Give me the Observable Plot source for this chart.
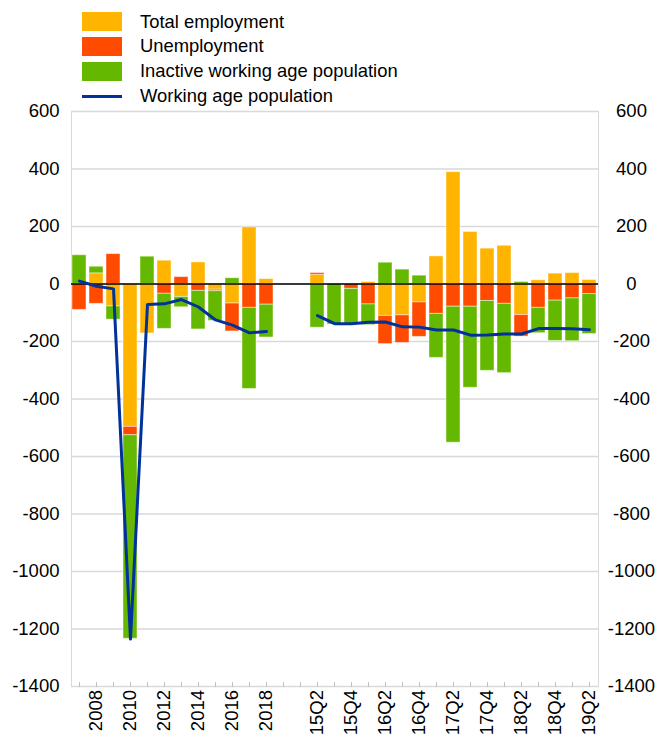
<!DOCTYPE html>
<html><head><meta charset="utf-8">
<script src="https://cdn.jsdelivr.net/npm/d3@7"></script>
<script src="https://cdn.jsdelivr.net/npm/@observablehq/plot@0.6"></script>
<style>
body{margin:0;overflow:hidden;background:#fff;font-family:Arial,"Liberation Sans",sans-serif;}
#legend{position:relative;height:100px;width:659px;}
.item{position:absolute;left:82px;height:20px;font-size:18.4px;color:#000;}
.sw{position:absolute;left:0;top:0.5px;width:40px;height:19px;}
.ln{position:absolute;left:0;top:8.5px;width:40px;height:3px;}
.lab{position:absolute;left:58px;top:0;white-space:nowrap;line-height:20px;}
</style></head><body>
<div id="legend"></div>
<div id="chart"></div>
<script>
const categories = ["2007","2008","2009","2010","2011","2012","2013","2014","2015","2016","2017","2018"," ","  ",
  "15Q2","15Q3","15Q4","16Q1","16Q2","16Q3","16Q4","17Q1","17Q2","17Q3","17Q4","18Q1","18Q2","18Q3","18Q4","19Q1","19Q2"];
const employment   = [0,37,-78,-497,-172,81,-45,75,-20,-68,197,17,null,null,
  32,0,0,7,-111,-109,-64,96,389,181,123,133,-108,13,36,38,14];
const unemployment = [-90,-69,104,-29,0,-34,24,-24,-5,-97,-83,-72,null,null,
  6,0,-17,-71,-98,-96,-120,-104,-79,-79,-59,-69,-75,-83,-58,-50,-35];
const inactive     = [100,23,-46,-708,95,-122,-36,-134,-103,20,-282,-114,null,null,
  -152,-141,-124,-72,74,50,29,-153,-473,-282,-243,-241,7,-88,-140,-149,-139];
const workingAge   = [10,-8,-17,-1235,-71,-69,-54,-80,-125,-143,-170,-165,null,null,
  -110,-138,-138,-133,-132,-149,-150,-160,-160,-178,-177,-174,-174,-155,-155,-156,-159];

const seriesNames = ["Total employment","Unemployment","Inactive working age population"];
const seriesColors = ["#FFB400","#FF4B00","#65B800"];
const lineName = "Working age population";
const lineColor = "#003299";
const yTicks = [-1400,-1200,-1000,-800,-600,-400,-200,0,200,400,600];
const xTickLabels = ["2008","2010","2012","2014","2016","2018","15Q2","15Q4","16Q2","16Q4","17Q2","17Q4","18Q2","18Q4","19Q2"];

// legend
const legend = document.getElementById("legend");
const legendTops = [11.5, 36, 61, 86];
[...seriesNames, lineName].forEach((name, i) => {
  const it = document.createElement("div");
  it.className = "item";
  it.style.top = legendTops[i] + "px";
  const sw = document.createElement("div");
  if (i < 3) { sw.className = "sw"; sw.style.background = seriesColors[i]; }
  else { sw.className = "ln"; sw.style.background = lineColor; }
  const lab = document.createElement("div");
  lab.className = "lab";
  lab.textContent = name;
  it.appendChild(sw); it.appendChild(lab);
  legend.appendChild(it);
});

const series = [employment, unemployment, inactive];
const rows = [];
categories.forEach((c, i) => {
  series.forEach((arr, j) => {
    if (arr[i] != null && arr[i] !== 0) rows.push({cat: c, series: seriesNames[j], value: arr[i]});
  });
});
const lineRows = categories.map((c, i) => ({cat: c, value: workingAge[i]}));

const tickShape = {draw(context, l) { context.moveTo(0, 0); context.lineTo(0, -l); }};
const fmt = d => String(d);

const chart = Plot.plot({
  width: 659, height: 636,
  marginTop: 11, marginBottom: 50, marginLeft: 71, marginRight: 61,
  style: {fontFamily: "Arial, 'Liberation Sans', sans-serif", fontSize: "18.5px", background: "white", color: "black"},
  x: {type: "band", domain: categories, paddingInner: 0.15, paddingOuter: 0.05, label: null},
  y: {domain: [-1400, 600], label: null},
  color: {domain: seriesNames, range: seriesColors},
  marks: [
    Plot.gridY(yTicks, {stroke: "#d9d9d9", strokeOpacity: 1, strokeWidth: 1.5}),
    Plot.frame({stroke: "#d9d9d9"}),
    Plot.barY(rows, {x: "cat", y: "value", fill: "series", stroke: "white", strokeOpacity: 0.45, strokeWidth: 1}),
    Plot.ruleY([0], {stroke: "black", strokeWidth: 1.5}),
    Plot.line(lineRows, {x: "cat", y: "value", stroke: lineColor, strokeWidth: 3}),
    Plot.axisY(yTicks, {anchor: "left", tickSize: 0, tickPadding: 12, tickFormat: fmt, label: null}),
    Plot.axisY(yTicks, {anchor: "right", tickSize: 0, tickPadding: 33, textAnchor: "middle", tickFormat: fmt, label: null}),
    Plot.axisX(xTickLabels, {anchor: "bottom", tickSize: 0, tickPadding: 3.5, tickRotate: -90, label: null}),
    Plot.vectorX(categories, {x: d => d, frameAnchor: "bottom", length: 4, anchor: "start", stroke: "#bfbfbf", strokeWidth: 1, shape: tickShape})
  ]
});
document.getElementById("chart").appendChild(chart);
</script>
</body></html>
